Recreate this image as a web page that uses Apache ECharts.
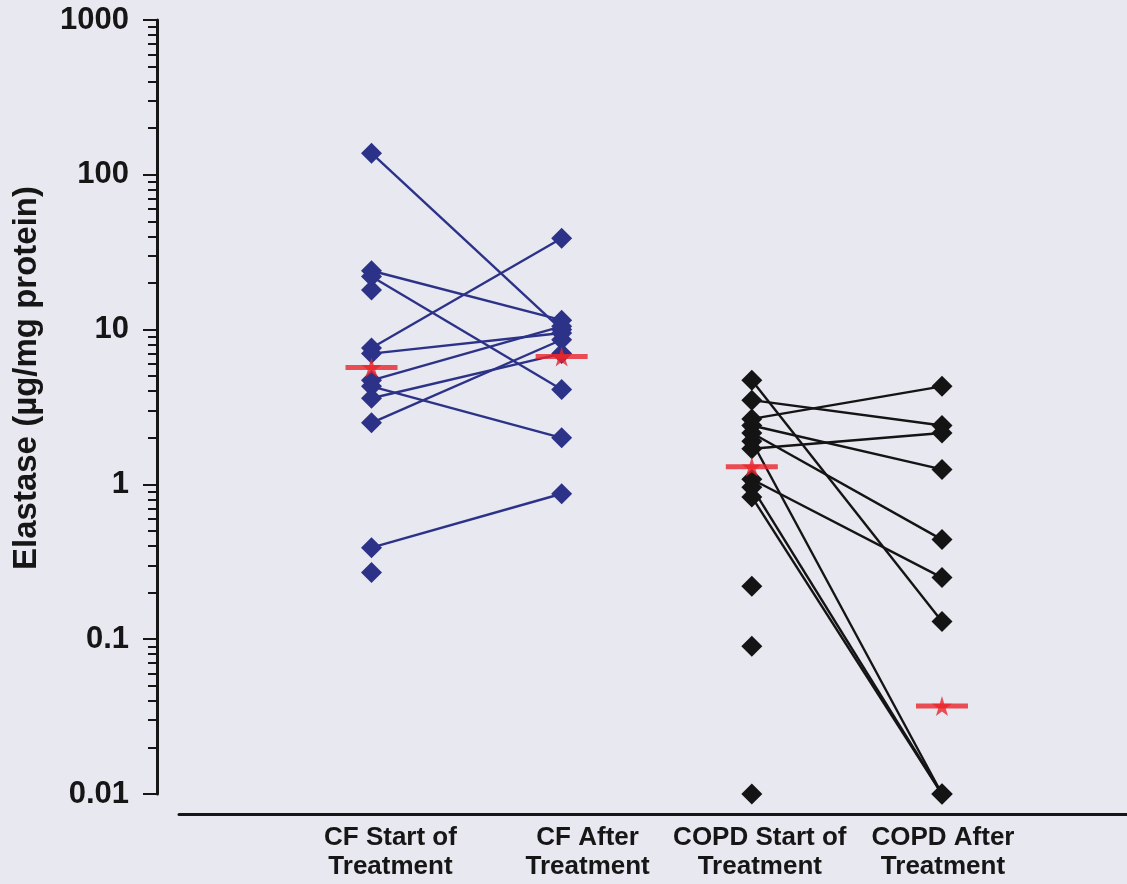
<!DOCTYPE html>
<html><head><meta charset="utf-8">
<script src="https://cdn.jsdelivr.net/npm/echarts@6/dist/echarts.min.js"></script>
<style>html,body{margin:0;padding:0;background:#e8e8f0}#c{width:1127px;height:884px}</style>
</head><body><div id="c"></div>
<script>
// ---- data ----
const CATEGORIES = ['CF Start of\nTreatment', 'CF After\nTreatment', 'COPD Start of\nTreatment', 'COPD After\nTreatment'];
const Y_TICKS = [0.01, 0.1, 1, 10, 100, 1000];
const Y_TICK_LABELS = ['0.01', '0.1', '1', '10', '100', '1000'];
const CF_START = [138, 24, 22, 18, 7.6, 7.0, 4.7, 4.3, 3.6, 2.5, 0.39, 0.27];
const CF_AFTER = [10.0, 11.5, 4.1, null, 38.9, 9.5, 10.5, 2.0, 7.0, 8.6, 0.87, null];
const COPD_START = [4.7, 3.5, 2.65, 2.4, 2.15, 1.9, 1.7, 1.08, 0.96, 0.83, 0.22, 0.09, 0.01];
const COPD_AFTER = [0.13, 2.4, 4.3, 1.25, 0.44, 0.01, 2.15, 0.25, 0.01, 0.01, null, null, null];
const MEDIANS = [5.7, 6.7, 1.3, 0.037];

// ---- style / layout ----
const BLUE = '#2c3288', BLACK = '#141414', RED = '#e8262c', INK = '#161616';
const FONT = '"Liberation Sans", Arial, sans-serif';
const LABEL_SHIFT = [19, 26, 8, 1];
const STAR = 'path://M50,0 L61,35 L98,35 L68,57 L79,91 L50,70 L21,91 L32,57 L2,35 L39,35 Z';

function pairLines(start, after, x0, color) {
  const out = [];
  start.forEach((s, i) => {
    if (after[i] == null) return;
    out.push({ type: 'line', data: [[x0, s], [x0 + 1, after[i]]], symbol: 'none',
      lineStyle: { color: color, width: 2.4 }, z: 2, silent: true, animation: false });
  });
  return out;
}
function dots(vals, x, color) {
  return { type: 'scatter', data: vals.filter(v => v != null).map(v => [x, v]), symbol: 'diamond',
    symbolSize: 21, itemStyle: { color: color, opacity: 1 }, z: 3, silent: true, animation: false };
}

const rich = {};
LABEL_SHIFT.forEach((s, i) => {
  rich['c' + i] = { padding: [0, 0, 0, 2 * s], fontSize: 26, fontWeight: 'bold', fontFamily: FONT,
    color: INK, lineHeight: 29, align: 'center' };
});

const option = {
  backgroundColor: '#e8e8f0',
  animation: false,
  grid: [
    { left: 157, right: 0, top: 20, bottom: 90, outerBoundsMode: 'none' },
    { left: 179, right: 0, top: 20, bottom: 90, outerBoundsMode: 'none' }
  ],
  xAxis: [{
    gridIndex: 0, type: 'value', min: -0.128, max: 4.973, show: false
  }, {
    gridIndex: 1, type: 'value', min: -0.012, max: 4.973, offset: 20,
    axisLine: { show: true, onZero: false, lineStyle: { color: INK, width: 3 } },
    axisTick: { show: false }, splitLine: { show: false },
    axisLabel: {
      customValues: [1, 2, 3, 4], margin: 9,
      formatter: v => {
        const i = Math.round(v) - 1;
        return CATEGORIES[i].split('\n').map(l => '{c' + i + '|' + l + '}').join('\n');
      },
      rich: rich
    }
  }],
  yAxis: [{
    gridIndex: 0, type: 'log', logBase: 10, min: 0.01, max: 1000,
    axisLine: { show: true, onZero: false, lineStyle: { color: INK, width: 3 } },
    axisTick: { show: true, inside: false, length: 14, lineStyle: { color: INK, width: 2 } },
    minorTick: { show: true, splitNumber: 9, length: 9, lineStyle: { color: INK, width: 2 } },
    axisLabel: { margin: 28, fontSize: 31, fontWeight: 'bold', fontFamily: FONT, color: INK,
      formatter: v => { const i = Y_TICKS.findIndex(t => Math.abs(Math.log10(t) - Math.log10(v)) < 1e-6); return i >= 0 ? Y_TICK_LABELS[i] : ''; } },
    splitLine: { show: false }, minorSplitLine: { show: false },
    name: 'Elastase (\u00b5g/mg protein)', nameLocation: 'middle', nameGap: 114,
    nameTextStyle: { fontSize: 33, fontWeight: 'bold', fontFamily: FONT, color: INK, padding: [0, 0, 0, 58] }
  }, {
    gridIndex: 1, type: 'log', logBase: 10, min: 0.01, max: 1000, show: false
  }],
  series: [
    ...pairLines(CF_START, CF_AFTER, 1, BLUE),
    ...pairLines(COPD_START, COPD_AFTER, 3, BLACK),
    dots(CF_START, 1, BLUE), dots(CF_AFTER, 2, BLUE),
    dots(COPD_START, 3, BLACK), dots(COPD_AFTER, 4, BLACK),
    { type: 'scatter', data: MEDIANS.map((v, i) => [i + 1, v]), symbol: 'rect', symbolSize: [52, 5],
      itemStyle: { color: RED }, z: 4, silent: true },
    { type: 'scatter', data: MEDIANS.map((v, i) => [i + 1, v]), symbol: STAR, symbolSize: 20,
      itemStyle: { color: RED }, z: 5, silent: true }
  ]
};
const chart = echarts.init(document.getElementById('c'));
chart.setOption(option);
</script></body></html>
